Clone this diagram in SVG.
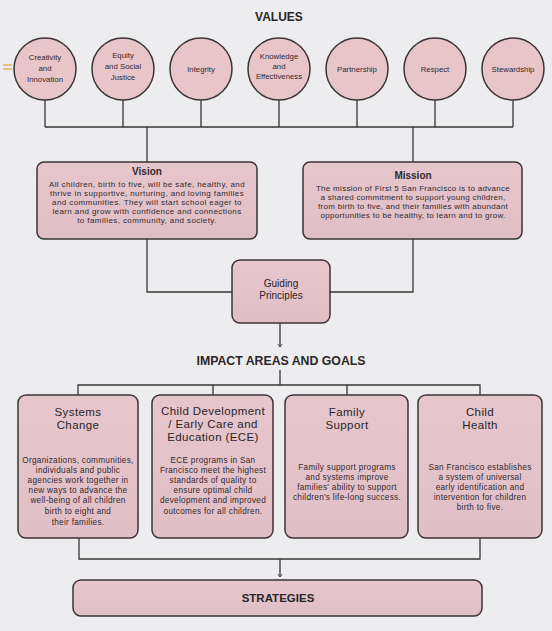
<svg xmlns="http://www.w3.org/2000/svg" width="552" height="631" viewBox="0 0 552 631">
<defs>
<marker id="arr" viewBox="0 0 8 8" refX="7" refY="4" markerWidth="6" markerHeight="6" orient="auto" markerUnits="userSpaceOnUse">
<path d="M3,1 L7,4 L3,7" fill="none" stroke="#444" stroke-width="1.2"/>
</marker>
<linearGradient id="pk" x1="0" y1="0" x2="0" y2="1">
<stop offset="0" stop-color="#e6c6cc"/>
<stop offset="1" stop-color="#e0bec6"/>
</linearGradient>
</defs>
<style>
text{font-family:"Liberation Sans",Arial,sans-serif;fill:#332a2e;text-anchor:middle}
.c{fill:#e8c5c9;stroke:#3a3436;stroke-width:1.5}
.b{fill:url(#pk);stroke:#3a3436;stroke-width:1.5}
.ct{font-size:7.8px}
.h{font-size:12px;font-weight:700;fill:#2a2628}
.vt{font-size:10px;font-weight:700}
.bt{font-size:8px;letter-spacing:0.4px}
.ib{font-size:8.2px;letter-spacing:0.3px}
.it{font-size:11.5px;letter-spacing:0.4px;fill:#2a2426}
.gp{font-size:10px;fill:#2a2426}
.ln{fill:none;stroke:#3a3436;stroke-width:1.3}
</style>
<rect width="552" height="631" fill="#edecef"/>
<line x1="3" y1="65" x2="12" y2="65" stroke="#d9a94a" stroke-width="1.3"/>
<line x1="3" y1="69" x2="12" y2="69" stroke="#d9a94a" stroke-width="1.3"/>

<text class="h" x="279" y="21">VALUES</text>

<g id="connectors">
<path class="ln" d="M45,100V127M123,100V127M201,100V127M279,100V127M357,100V127M435,100V127M513,100V127M45,127H513"/>
<path class="ln" d="M147,127V162M413,127V162"/>
<path class="ln" d="M147,239V292H232M413,239V292H330"/>
<path class="ln" d="M280,323V347" marker-end="url(#arr)"/>
<path class="ln" d="M280,370V385M78,395V385H480V395M213,385V395M347,385V395"/>
<path class="ln" d="M79,538V559H480V538"/>
<path class="ln" d="M280,559V577" marker-end="url(#arr)"/>
</g>

<g id="v-creativity"><circle class="c" cx="45" cy="69" r="31"/><text class="ct" x="45" y="60">Creativity</text><text class="ct" x="45" y="71">and</text><text class="ct" x="45" y="82">Innovation</text></g>
<g id="v-equity"><circle class="c" cx="123" cy="69" r="31"/><text class="ct" x="123" y="58">Equity</text><text class="ct" x="123" y="69">and Social</text><text class="ct" x="123" y="80">Justice</text></g>
<g id="v-integrity"><circle class="c" cx="201" cy="69" r="31"/><text class="ct" x="201" y="72">Integrity</text></g>
<g id="v-knowledge"><circle class="c" cx="279" cy="69" r="31"/><text class="ct" x="279" y="59">Knowledge</text><text class="ct" x="279" y="69">and</text><text class="ct" x="279" y="79">Effectiveness</text></g>
<g id="v-partnership"><circle class="c" cx="357" cy="69" r="31"/><text class="ct" x="357" y="72">Partnership</text></g>
<g id="v-respect"><circle class="c" cx="435" cy="69" r="31"/><text class="ct" x="435" y="72">Respect</text></g>
<g id="v-stewardship"><circle class="c" cx="513" cy="69" r="31"/><text class="ct" x="513" y="72">Stewardship</text></g>

<g id="vision"><rect class="b" x="37" y="162" width="220" height="77" rx="7"/>
<text class="vt" x="147" y="175">Vision</text>
<text class="bt" x="147" y="187">All children, birth to five, will be safe, healthy, and</text>
<text class="bt" x="147" y="196">thrive in supportive, nurturing, and loving families</text>
<text class="bt" x="147" y="205">and communities. They will start school eager to</text>
<text class="bt" x="147" y="214">learn and grow with confidence and connections</text>
<text class="bt" x="147" y="223">to families, community, and society.</text>
</g>
<g id="mission"><rect class="b" x="303" y="162" width="219" height="77" rx="7"/>
<text class="vt" x="413" y="179">Mission</text>
<text class="bt" x="413" y="191" style="letter-spacing:0.3px">The mission of First 5 San Francisco is to advance</text>
<text class="bt" x="413" y="200" style="letter-spacing:0.3px">a shared commitment to support young children,</text>
<text class="bt" x="413" y="209" style="letter-spacing:0.3px">from birth to five, and their families with abundant</text>
<text class="bt" x="413" y="218" style="letter-spacing:0.3px">opportunities to be healthy, to learn and to grow.</text>
</g>
<g id="guiding"><rect class="b" x="232" y="260" width="98" height="63" rx="8"/>
<text class="gp" x="281" y="287">Guiding</text>
<text class="gp" x="281" y="299">Principles</text>
</g>

<text class="h" x="281" y="365" style="font-size:12.3px">IMPACT AREAS AND GOALS</text>

<g id="systems"><rect class="b" x="18" y="395" width="120" height="143" rx="8"/>
<text class="it" x="78" y="416">Systems</text>
<text class="it" x="78" y="429">Change</text>
<text class="ib" x="78" y="463">Organizations, communities,</text>
<text class="ib" x="78" y="473">individuals and public</text>
<text class="ib" x="78" y="483">agencies work together in</text>
<text class="ib" x="78" y="493">new ways to advance the</text>
<text class="ib" x="78" y="503">well-being of all children</text>
<text class="ib" x="78" y="514">birth to eight and</text>
<text class="ib" x="78" y="525">their families.</text>
</g>
<g id="childdev"><rect class="b" x="152" y="395" width="121" height="143" rx="8"/>
<text class="it" x="213" y="415">Child Development</text>
<text class="it" x="213" y="428">/ Early Care and</text>
<text class="it" x="213" y="441">Education (ECE)</text>
<text class="ib" x="213" y="463">ECE programs in San</text>
<text class="ib" x="213" y="473">Francisco meet the highest</text>
<text class="ib" x="213" y="483">standards of quality to</text>
<text class="ib" x="213" y="493">ensure optimal child</text>
<text class="ib" x="213" y="503">development and improved</text>
<text class="ib" x="213" y="514">outcomes for all children.</text>
</g>
<g id="family"><rect class="b" x="285" y="395" width="123" height="143" rx="8"/>
<text class="it" x="347" y="416">Family</text>
<text class="it" x="347" y="429">Support</text>
<text class="ib" x="347" y="470">Family support programs</text>
<text class="ib" x="347" y="480">and systems improve</text>
<text class="ib" x="347" y="490">families' ability to support</text>
<text class="ib" x="347" y="500">children's life-long success.</text>
</g>
<g id="health"><rect class="b" x="418" y="395" width="124" height="143" rx="8"/>
<text class="it" x="480" y="416">Child</text>
<text class="it" x="480" y="429">Health</text>
<text class="ib" x="480" y="470">San Francisco establishes</text>
<text class="ib" x="480" y="480">a system of universal</text>
<text class="ib" x="480" y="490">early identification and</text>
<text class="ib" x="480" y="500">intervention for children</text>
<text class="ib" x="480" y="510">birth to five.</text>
</g>
<g id="strategies"><rect class="b" x="73" y="580" width="409" height="36" rx="8"/>
<text class="h" x="278" y="602" style="font-size:11.5px">STRATEGIES</text>
</g>
</svg>
